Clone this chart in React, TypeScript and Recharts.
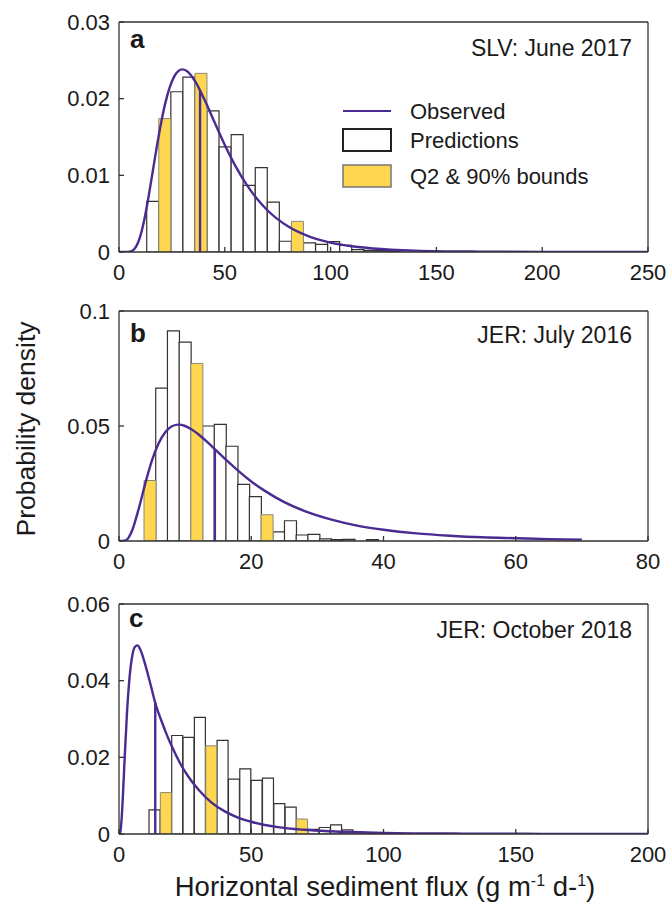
import React from 'react';
import { ComposedChart, Bar, Line, XAxis, YAxis, ReferenceLine, Legend } from 'recharts';

const FONT = '"Liberation Sans", Arial, Helvetica, sans-serif';
const PURPLE = '#4a2b91';
const YELLOW = '#ffd64f';
const AXIS = '#333333';
const TEXT = '#1a1a1a';

// ---------- Panel a : SLV June 2017 ----------
const binCentersA = [15.95, 21.65, 27.35, 33.05, 38.75, 44.45, 50.15, 55.85, 61.55, 67.25, 72.95, 78.65, 84.35, 90.05, 95.75, 101.45, 107.15, 112.85, 118.55, 124.25, 129.95];
const predA = [0.0066, 0.0174, 0.0209, 0.0228, 0.0233, 0.0184, 0.0137, 0.0153, 0.0087, 0.011, 0.0065, 0.0014, 0.004, 0.0012, 0.001, 0.00135, 0.00087, 0.0003, 0.00022, 0.00017, 0.0001];
const boundIdxA = [1, 4, 12];
const obsXA = [0, 4, 6, 8, 10, 12, 14, 16, 18, 20, 22, 24, 26, 28, 30, 32, 36, 40, 45, 50, 55, 60, 65, 70, 80, 90, 100, 110, 120, 140, 170, 200, 250];
const obsYA = [0, 0.00001, 0.00012, 0.00066, 0.002, 0.00426, 0.00725, 0.0106, 0.01395, 0.017, 0.01955, 0.02151, 0.02284, 0.02359, 0.02382, 0.02362, 0.02226, 0.02011, 0.01701, 0.01396, 0.01123, 0.00891, 0.007, 0.00548, 0.00332, 0.00201, 0.00122, 0.00075, 0.000465, 0.000184, 0.00005, 0.00001, 0];
const medianA = 38.3;
const medianDensA = 0.0211;
const xTicksA = [0, 50, 100, 150, 200, 250];
const yTicksA = [0, 0.01, 0.02, 0.03];

// ---------- Panel b : JER July 2016 ----------
const binCentersB = [4.67, 6.44, 8.21, 9.98, 11.75, 13.52, 15.29, 17.06, 18.83, 20.6, 22.37, 24.14, 25.91, 27.68, 29.45, 31.22, 32.99, 34.76, 36.53, 38.3];
const predB = [0.0263, 0.0665, 0.0914, 0.0865, 0.0772, 0.05, 0.0507, 0.0412, 0.0246, 0.0193, 0.0114, 0.004, 0.0088, 0.0026, 0.0029, 0.0009, 0.0006, 0.0007, 0, 0.0006];
const boundIdxB = [0, 4, 10];
const obsXB = [0, 1, 2, 3, 4, 5, 6, 7, 8, 9, 10, 11, 12, 14, 16, 18, 20, 22, 25, 28, 32, 36, 40, 45, 50, 55, 60, 65, 70];
const obsYB = [0, 0.0003, 0.0047, 0.0142, 0.0253, 0.0352, 0.0425, 0.0473, 0.0499, 0.0506, 0.05, 0.0485, 0.0464, 0.0413, 0.0358, 0.0306, 0.0259, 0.0219, 0.0169, 0.0131, 0.0094, 0.0067, 0.0049, 0.0033, 0.0023, 0.0016, 0.0012, 0.0008, 0.0006];
const medianB = 14.5;
const medianDensB = 0.0399;
const xTicksB = [0, 20, 40, 60, 80];
const yTicksB = [0, 0.05, 0.1];

// ---------- Panel c : JER October 2018 ----------
const binCentersC = [13.49, 17.78, 22.07, 26.36, 30.65, 34.94, 39.23, 43.52, 47.81, 52.1, 56.39, 60.68, 64.97, 69.26, 73.55, 77.84, 82.13, 86.42, 90.71, 95.0];
const predC = [0.0063, 0.0108, 0.0257, 0.0252, 0.0304, 0.023, 0.0244, 0.0143, 0.017, 0.014, 0.0146, 0.0079, 0.007, 0.0039, 0.0012, 0.0017, 0.0024, 0.0011, 0.0004, 0.0003];
const boundIdxC = [1, 5, 13];
const obsXC = [0, 0.5, 1, 1.5, 2, 3, 4, 5, 6, 7, 8, 10, 12, 14, 16, 18, 20, 23, 26, 30, 35, 40, 45, 50, 60, 70, 80, 100, 130, 160, 200];
const obsYC = [0, 0.0005, 0.004, 0.0103, 0.0177, 0.0314, 0.0409, 0.0464, 0.0488, 0.0492, 0.0482, 0.044, 0.0388, 0.0335, 0.0296, 0.026, 0.0228, 0.0186, 0.0152, 0.0116, 0.0082, 0.0059, 0.0043, 0.0032, 0.0018, 0.0011, 0.0007, 0.0003, 0.0001, 0.00004, 0.00001];
const medianC = 13.7;
const medianDensC = 0.0343;
const xTicksC = [0, 50, 100, 150, 200];
const yTicksC = [0, 0.02, 0.04, 0.06];

const tickStyle = { fill: TEXT, fontSize: 22, fontFamily: FONT };

function LegendBox() {
  return (
    <svg width={300} height={100} style={{ display: 'block' }}>
      <line x1={8} y1={16} x2={56} y2={16} stroke={PURPLE} strokeWidth={2} />
      <rect x={8} y={34} width={48} height={22} fill="#ffffff" stroke="#222" strokeWidth={2} />
      <rect x={8} y={70} width={48} height={22} fill={YELLOW} stroke="#777" strokeWidth={1.5} />
      <text x={75} y={24} fontSize={22} fontFamily={FONT} fill={TEXT}>Observed</text>
      <text x={75} y={53} fontSize={22} fontFamily={FONT} fill={TEXT}>Predictions</text>
      <text x={75} y={89} fontSize={22} fontFamily={FONT} fill={TEXT}>Q2 &amp; 90% bounds</text>
    </svg>
  );
}

type PanelProps = {
  top: number;
  centers: number[];
  heights: number[];
  boundIdx: number[];
  obsX: number[];
  obsY: number[];
  median: number;
  medianDens: number;
  xTicks: number[];
  yTicks: number[];
  legend?: boolean;
};

function Panel(p: PanelProps) {
  const bins = p.centers.map((x, i) => {
    const isBound = p.boundIdx.includes(i);
    return { x, pred: isBound ? 0 : p.heights[i], bound: isBound ? p.heights[i] : 0 };
  });
  const curve = p.obsX.map((x, i) => ({ x, y: p.obsY[i] }));
  const xMax = p.xTicks[p.xTicks.length - 1];
  const yMax = p.yTicks[p.yTicks.length - 1];
  return (
    <div style={{ position: 'absolute', left: 0, top: p.top, width: 670, height: 290 }}>
      <ComposedChart
        width={670}
        height={290}
        data={bins}
        margin={{ top: 21, right: 21, bottom: 8, left: 0 }}
        barCategoryGap={0}
        barGap={0}
      >
        <XAxis xAxisId="bins" type="number" dataKey="x" domain={[0, xMax]} allowDataOverflow hide height={0} />
        <XAxis
          xAxisId="main"
          type="number"
          dataKey="x"
          domain={[0, xMax]}
          ticks={p.xTicks}
          interval={0}
          allowDataOverflow
          height={30}
          tickSize={-5}
          tickMargin={17}
          stroke={AXIS}
          strokeWidth={1.3}
          tick={tickStyle}
        />
        <XAxis
          xAxisId="top"
          orientation="top"
          type="number"
          domain={[0, xMax]}
          ticks={p.xTicks}
          interval={0}
          allowDataOverflow
          height={1}
          tickSize={-5}
          tick={false}
          stroke={AXIS}
          strokeWidth={1.3}
        />
        <YAxis
          yAxisId="left"
          type="number"
          domain={[0, yMax]}
          ticks={p.yTicks}
          interval={0}
          allowDataOverflow
          width={119}
          tickSize={-5}
          tickMargin={14}
          stroke={AXIS}
          strokeWidth={1.3}
          tick={tickStyle}
        />
        <YAxis
          yAxisId="right"
          orientation="right"
          type="number"
          domain={[0, yMax]}
          ticks={p.yTicks}
          interval={0}
          allowDataOverflow
          width={1}
          tickSize={-5}
          tick={false}
          stroke={AXIS}
          strokeWidth={1.3}
        />
        <Bar xAxisId="bins" yAxisId="left" dataKey="pred" name="Predictions" stackId="h" fill="#ffffff" stroke="#333" strokeWidth={1.2} isAnimationActive={false} />
        <Bar xAxisId="bins" yAxisId="left" dataKey="bound" name="Q2 & 90% bounds" stackId="h" fill={YELLOW} stroke="#8a8a7a" strokeWidth={1} isAnimationActive={false} />
        <Line
          xAxisId="main"
          yAxisId="left"
          data={curve}
          dataKey="y"
          name="Observed"
          type="monotone"
          stroke={PURPLE}
          strokeWidth={2.4}
          dot={false}
          activeDot={false}
          isAnimationActive={false}
        />
        <ReferenceLine
          xAxisId="main"
          yAxisId="left"
          segment={[{ x: p.median, y: 0 }, { x: p.median, y: p.medianDens }]}
          stroke={PURPLE}
          strokeWidth={2.4}
        />
        {p.legend ? (
          <Legend
            layout="vertical"
            verticalAlign="middle"
            align="center"
            content={() => <LegendBox />}
            wrapperStyle={{ position: 'absolute', left: 335, top: 95, width: 300, height: 100 }}
          />
        ) : null}
      </ComposedChart>
    </div>
  );
}

export default function App() {
  return (
    <div style={{ position: 'absolute', left: 0, top: 0, width: 670, height: 904, background: '#ffffff', fontFamily: FONT }}>
      <Panel top={0} centers={binCentersA} heights={predA} boundIdx={boundIdxA} obsX={obsXA} obsY={obsYA}
        median={medianA} medianDens={medianDensA} xTicks={xTicksA} yTicks={yTicksA} legend />
      <Panel top={289} centers={binCentersB} heights={predB} boundIdx={boundIdxB} obsX={obsXB} obsY={obsYB}
        median={medianB} medianDens={medianDensB} xTicks={xTicksB} yTicks={yTicksB} />
      <Panel top={582} centers={binCentersC} heights={predC} boundIdx={boundIdxC} obsX={obsXC} obsY={obsYC}
        median={medianC} medianDens={medianDensC} xTicks={xTicksC} yTicks={yTicksC} />
      <svg width={670} height={904} style={{ position: 'absolute', left: 0, top: 0, pointerEvents: 'none' }}>
        <g fontFamily={FONT} fill={TEXT}>
          <text x={130} y={48} fontSize={26} fontWeight="bold">a</text>
          <text x={130} y={342} fontSize={26} fontWeight="bold">b</text>
          <text x={129} y={627} fontSize={26} fontWeight="bold">c</text>
          <text x={632} y={56} fontSize={23} textAnchor="end">SLV: June 2017</text>
          <text x={632} y={343} fontSize={23} textAnchor="end">JER: July 2016</text>
          <text x={632} y={638} fontSize={23} textAnchor="end">JER: October 2018</text>
          <text x={35} y={429} fontSize={26.5} textAnchor="middle" transform="rotate(-90 35 429)">Probability density</text>
          <text x={385} y={896} fontSize={27.5} textAnchor="middle">
            Horizontal sediment flux (g m<tspan dy={-10} fontSize={16}>-1</tspan><tspan dy={10}> d-</tspan><tspan dy={-10} fontSize={16}>1</tspan><tspan dy={10}>)</tspan>
          </text>
        </g>
      </svg>
    </div>
  );
}
